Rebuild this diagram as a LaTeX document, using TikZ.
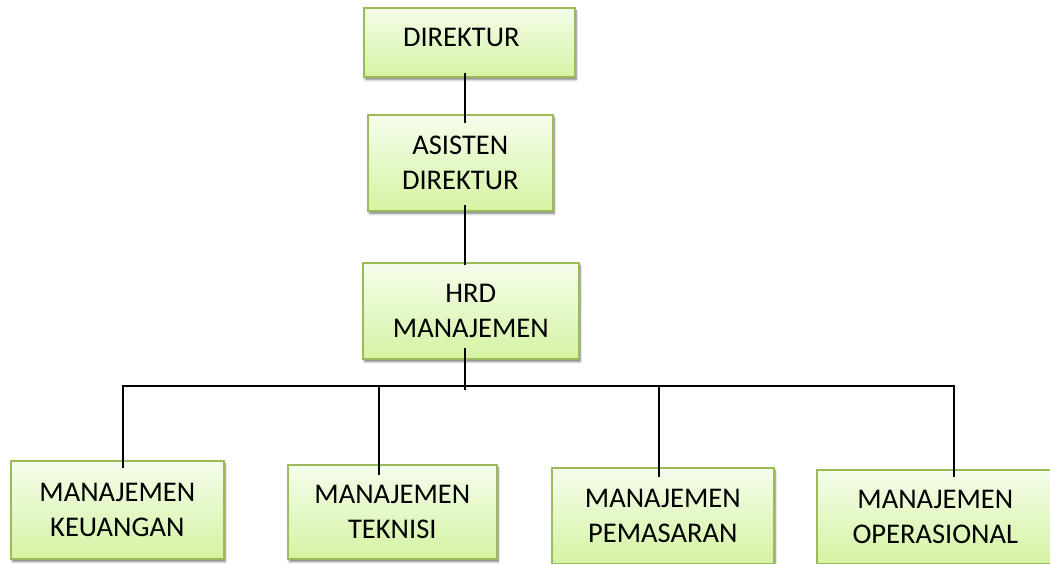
\documentclass[tikz,border=0pt]{standalone}
\usepackage{fontspec}
\setmainfont{Carlito}
\usetikzlibrary{shadows.blur,calc}
\definecolor{boxtop}{HTML}{F5FDEC}
\definecolor{boxbot}{HTML}{D5F3A2}
\definecolor{boxline}{HTML}{9BBB59}
\tikzset{
  orgbox/.style={draw=boxline, line width=1.6pt, top color=boxtop, bottom color=boxbot,
    align=center, inner sep=0pt, anchor=north west,
    font=\fontsize{28.5}{35.5}\selectfont,
    blur shadow={shadow xshift=1.5pt, shadow yshift=-3pt, shadow blur steps=6, shadow opacity=50}},
  conn/.style={draw=black, line width=2pt}
}
\begin{document}
\begin{tikzpicture}[x=1pt,y=-1pt]
\useasboundingbox (0,0) rectangle (1050,564);
\path[clip] (0,0) rectangle (1050,564);
% boxes
\node[orgbox, minimum width=211pt, minimum height=69pt] (dir) at (363,7) {\raisebox{5pt}[\height][\depth]{DIREKTUR\kern16pt}};
\node[orgbox, minimum width=185pt, minimum height=96pt] (asi) at (367,114) {ASISTEN\\DIREKTUR};
\node[orgbox, minimum width=216pt, minimum height=96pt] (hrd) at (362,262) {HRD\\MANAJEMEN};
\node[orgbox, minimum width=213pt, minimum height=98pt] (keu) at (10,460) {MANAJEMEN\\KEUANGAN};
\node[orgbox, minimum width=209pt, minimum height=94pt] (tek) at (287,464) {MANAJEMEN\\TEKNISI};
\node[orgbox, minimum width=222pt, minimum height=96pt] (pem) at (551,467) {MANAJEMEN\\PEMASARAN};
\node[orgbox, minimum width=237pt, minimum height=94pt] (ope) at (816,469) {MANAJEMEN\\OPERASIONAL};
% spine and bus
\coordinate (sp) at (465,0);
\coordinate (busL) at (123,386);
\coordinate (busR) at (954,386);
\coordinate (busM) at (465,386);
% connectors
\draw[conn] ([yshift=5pt]dir.south -| sp) -- ([yshift=-9pt]asi.north -| sp);
\draw[conn] ([yshift=7pt]asi.south -| sp) -- ([yshift=-3pt]hrd.north -| sp);
\draw[conn] ([yshift=12pt]hrd.south -| sp) -- ([yshift=-4pt]busM);
\draw[conn, line cap=rect] (busL) -- (busR);
\draw[conn] (busL) -- ([yshift=-8pt]keu.north -| busL);
\draw[conn] (busL -| 379,0) -- ([yshift=-11pt]tek.north -| 379,0);
\draw[conn] (busL -| 659,0) -- ([yshift=-10pt]pem.north -| 659,0);
\draw[conn] (busR) -- ([yshift=-8pt]ope.north -| busR);
\end{tikzpicture}
\end{document}
